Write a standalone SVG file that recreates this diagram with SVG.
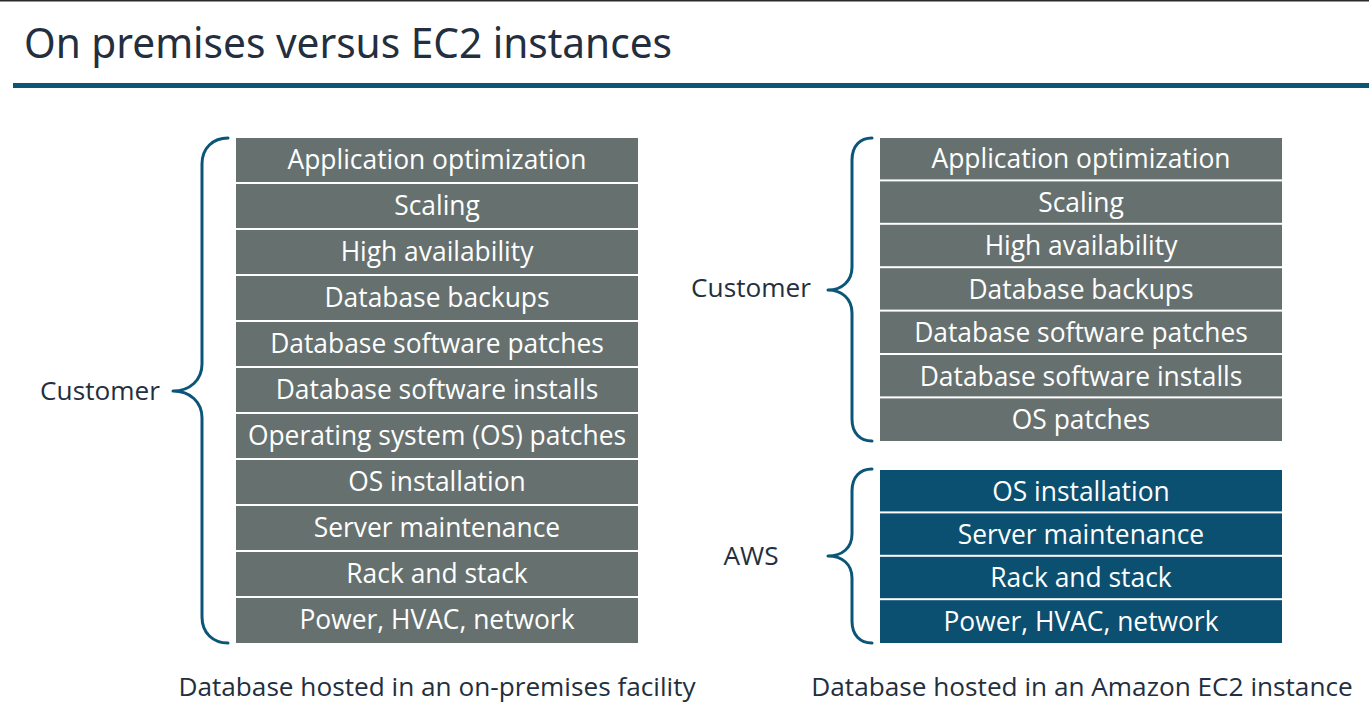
<svg xmlns="http://www.w3.org/2000/svg" width="1369" height="704" viewBox="0 0 1369 704">
<style>
.bg{fill:#ffffff}
.row{fill:#66716f}
.aws{fill:#0b4f71}
.rt{font-family:"Open Sans","Liberation Sans",sans-serif;font-size:26.4px;fill:#ffffff;text-anchor:middle}
.lbl{font-family:"Open Sans","Liberation Sans",sans-serif;font-size:26.2px;fill:#232f3e;text-anchor:middle}
.brace{fill:none;stroke:#0b5678;stroke-width:3;stroke-linecap:round;stroke-linejoin:round}
.title{font-family:"Noto Sans","Open Sans",sans-serif;font-size:42px;fill:#232f3e}
</style>
<rect class="bg" x="0" y="0" width="1369" height="704"/>
<rect x="0" y="0" width="1369" height="1.5" fill="#2a2a2a"/>
<g id="title">
<text class="title" x="24" y="58" textLength="648" lengthAdjust="spacingAndGlyphs">On premises versus EC2 instances</text>
<rect x="13" y="83" width="1356" height="5" fill="#0b5577"/>
</g>

<g id="onprem-stack">
<rect class="row" x="236" y="138" width="402" height="44"/><text class="rt" x="437" y="169">Application optimization</text>
<rect class="row" x="236" y="184" width="402" height="44"/><text class="rt" x="437" y="215">Scaling</text>
<rect class="row" x="236" y="230" width="402" height="44"/><text class="rt" x="437" y="261">High availability</text>
<rect class="row" x="236" y="276" width="402" height="44"/><text class="rt" x="437" y="307">Database backups</text>
<rect class="row" x="236" y="322" width="402" height="44"/><text class="rt" x="437" y="353">Database software patches</text>
<rect class="row" x="236" y="368" width="402" height="44"/><text class="rt" x="437" y="399">Database software installs</text>
<rect class="row" x="236" y="414" width="402" height="44"/><text class="rt" x="437" y="445">Operating system (OS) patches</text>
<rect class="row" x="236" y="460" width="402" height="44"/><text class="rt" x="437" y="491">OS installation</text>
<rect class="row" x="236" y="506" width="402" height="44"/><text class="rt" x="437" y="537">Server maintenance</text>
<rect class="row" x="236" y="552" width="402" height="44"/><text class="rt" x="437" y="583">Rack and stack</text>
<rect class="row" x="236" y="598" width="402" height="45"/><text class="rt" x="437" y="629">Power, HVAC, network</text>
</g>

<g id="ec2-customer-stack">
<rect class="row" x="880" y="138" width="402" height="41.4"/><text class="rt" x="1081" y="168">Application optimization</text>
<rect class="row" x="880" y="181.4" width="402" height="41.4"/><text class="rt" x="1081" y="212">Scaling</text>
<rect class="row" x="880" y="224.8" width="402" height="41.4"/><text class="rt" x="1081" y="255">High availability</text>
<rect class="row" x="880" y="268.2" width="402" height="41.4"/><text class="rt" x="1081" y="299">Database backups</text>
<rect class="row" x="880" y="311.6" width="402" height="41.4"/><text class="rt" x="1081" y="342">Database software patches</text>
<rect class="row" x="880" y="355" width="402" height="41.4"/><text class="rt" x="1081" y="386">Database software installs</text>
<rect class="row" x="880" y="398.4" width="402" height="42.6"/><text class="rt" x="1081" y="429">OS patches</text>
</g>

<g id="ec2-aws-stack">
<rect class="aws" x="880" y="470" width="402" height="41.4"/><text class="rt" x="1081" y="501">OS installation</text>
<rect class="aws" x="880" y="513.4" width="402" height="41.4"/><text class="rt" x="1081" y="544">Server maintenance</text>
<rect class="aws" x="880" y="556.8" width="402" height="41.4"/><text class="rt" x="1081" y="587">Rack and stack</text>
<rect class="aws" x="880" y="600.2" width="402" height="42.8"/><text class="rt" x="1081" y="631">Power, HVAC, network</text>
</g>

<g id="braces">
<path class="brace" d="M228,138 C213,138 202,148 202,164 L202,364 C202,380 190,391 173,391 C190,391 202,402 202,418 L202,617 C202,633 213,643 228,643"/>
<path class="brace" d="M872,138 C860,138 852,146 852,160 L852,267 C852,281 842,290 828,290 C842,290 852,299 852,313 L852,419 C852,433 860,441 872,441"/>
<path class="brace" d="M872,469 C860,469 852,477 852,491 L852,534 C852,548 842,556 828,556 C842,556 852,564 852,578 L852,621 C852,635 860,643 872,643"/>
</g>

<g id="labels">
<text class="lbl" x="100" y="400">Customer</text>
<text class="lbl" x="751" y="297">Customer</text>
<text class="lbl" x="751" y="565">AWS</text>
<text class="lbl" x="437" y="696">Database hosted in an on-premises facility</text>
<text class="lbl" x="1082" y="696">Database hosted in an Amazon EC2 instance</text>
</g>
</svg>
